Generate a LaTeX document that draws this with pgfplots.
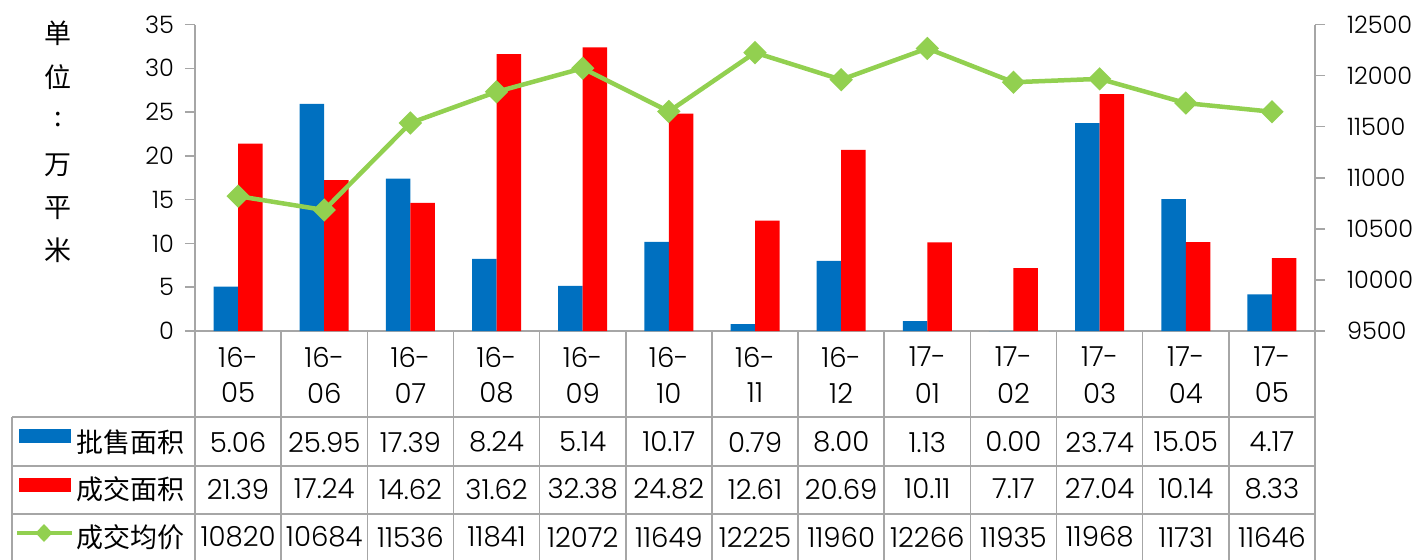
\documentclass[border=0pt]{standalone}
\usepackage{pgfplots}
\pgfplotsset{compat=1.18}
\usepackage{fontspec}
\setmainfont{Poppins Light}
\newfontfamily\cjk{Noto Sans CJK SC}
\definecolor{cblue}{RGB}{0,112,192}
\definecolor{cred}{RGB}{255,0,0}
\definecolor{cgreen}{RGB}{146,208,80}
\definecolor{cgrid}{RGB}{166,166,166}
\newcommand\numf{\fontsize{13.8}{13.8}\selectfont}
\newcommand\tickf{\fontsize{12}{12}\selectfont}
\newcommand\cjkf{\cjk\fontsize{13.5}{13.5}\selectfont}

\pgfplotstableread{
x pifa chengjiao junjia
0 5.06 21.39 10820
1 25.95 17.24 10684
2 17.39 14.62 11536
3 8.24 31.62 11841
4 5.14 32.38 12072
5 10.17 24.82 11649
6 0.79 12.61 12225
7 8.00 20.69 11960
8 1.13 10.11 12266
9 0.00 7.17 11935
10 23.74 27.04 11968
11 15.05 10.14 11731
12 4.17 8.33 11646
}\datatable

\begin{document}
\begin{tikzpicture}
\path[use as bounding box] (0,0) rectangle (707pt,279.5pt);
\pgfplotsset{
  common/.style={
    at={(97.5pt,114pt)}, anchor=south west, scale only axis,
    width=560pt, height=153.25pt,
    xmin=-0.5, xmax=12.5, xtick=\empty,
    axis line style={cgrid, line width=0.75pt, -},
    tick align=outside, major tick length=5pt,
    tick style={cgrid, line width=0.75pt},
    scaled y ticks=false,
    /pgf/number format/assume math mode=true,
    /pgf/number format/1000 sep={},
    clip=false,
  }
}
\begin{axis}[common,
  ymin=0, ymax=35, ytick={0,5,...,35},
  axis y line*=left, axis x line*=bottom,
  yticklabel style={font=\tickf, text=black, xshift=-2pt},
]
\addplot[ybar, bar width=12.25pt, bar shift=-6.125pt, fill=cblue, draw=none] table[x=x, y=pifa] {\datatable};
\addplot[ybar, bar width=12.25pt, bar shift=6.125pt, fill=cred, draw=none] table[x=x, y=chengjiao] {\datatable};
\end{axis}
\begin{axis}[common,
  ymin=9500, ymax=12500, ytick={9500,10000,...,12500},
  axis y line*=right, axis x line=none,
  yticklabel style={font=\tickf, text=black, xshift=7.5pt},
]
\addplot[cgreen, line width=2.25pt, mark=square*, mark size=3pt, mark options={rotate=45, solid}] table[x=x, y=junjia] {\datatable};
\end{axis}

\begin{scope}[x=0.5pt, y=-0.5pt, shift={(0,279.5pt)}]
% table grid
\foreach \k in {0,...,13} {
  \draw[cgrid, line width=0.75pt] ({195+86.154*\k},331) -- ({195+86.154*\k},560);
}
\foreach \yy in {417,466,514} {
  \draw[cgrid, line width=0.75pt] (12,\yy) -- (1315,\yy);
}
\draw[cgrid, line width=0.75pt] (12,417) -- (12,560);
% categories
\foreach \a/\b [count=\i from 0] in {16/05,16/06,16/07,16/08,16/09,16/10,16/11,16/12,17/01,17/02,17/03,17/04,17/05} {
  \node[font=\numf, inner sep=0pt] at ({195+86.154*(\i+0.5)},357) {\a-};
  \node[font=\numf, inner sep=0pt] at ({195+86.154*(\i+0.5)},393) {\b};
}
% rows
\foreach \v [count=\i from 0] in {5.06,25.95,17.39,8.24,5.14,10.17,0.79,8.00,1.13,0.00,23.74,15.05,4.17} {
  \node[font=\numf, inner sep=0pt] at ({195+86.154*(\i+0.5)},442) {\v};
}
\foreach \v [count=\i from 0] in {21.39,17.24,14.62,31.62,32.38,24.82,12.61,20.69,10.11,7.17,27.04,10.14,8.33} {
  \node[font=\numf, inner sep=0pt] at ({195+86.154*(\i+0.5)},489) {\v};
}
\foreach \v [count=\i from 0] in {10820,10684,11536,11841,12072,11649,12225,11960,12266,11935,11968,11731,11646} {
  \node[font=\numf, inner sep=0pt] at ({195+86.154*(\i+0.5)},537) {\v};
}
% legend keys
\fill[cblue] (19,429) rectangle (71,443);
\fill[cred] (19,478) rectangle (71,492);
\draw[cgreen, line width=2.25pt] (17,533) -- (72,533);
\fill[cgreen] (44,524) -- (52.5,533) -- (44,542) -- (35.5,533) -- cycle;
\node[font=\cjkf, anchor=west, inner sep=0pt] at (76,442) {批售面积};
\node[font=\cjkf, anchor=west, inner sep=0pt] at (76,489) {成交面积};
\node[font=\cjkf, anchor=west, inner sep=0pt] at (76,537) {成交均价};
% unit label
\foreach \c/\yy in {单/33,位/77,:/120,万/165,平/208,米/250} {
  \node[font=\cjkf, inner sep=0pt] at (58,\yy) {\c};
}
\end{scope}
\end{tikzpicture}
\end{document}
